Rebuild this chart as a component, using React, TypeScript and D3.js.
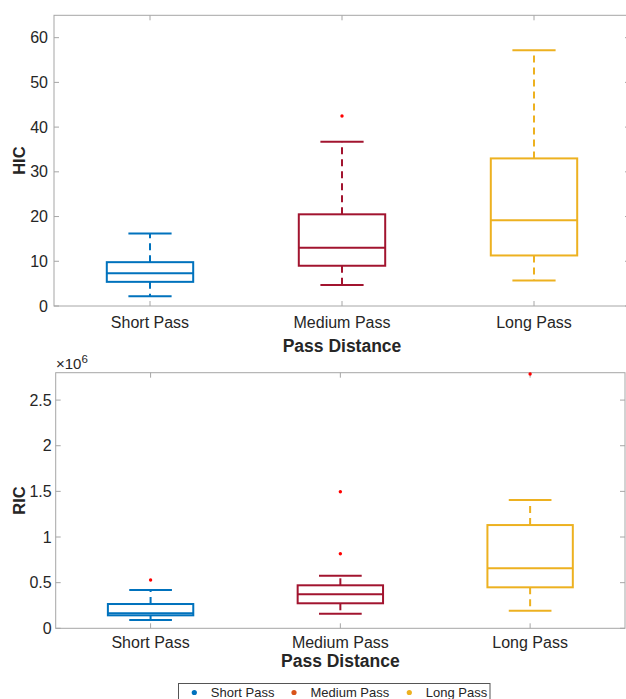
import React, { useRef, useEffect } from "react";
import * as d3 from "d3";

// categories and colours
const groups = ["Short Pass", "Medium Pass", "Long Pass"];
const boxColors = ["#0072BD", "#A2142F", "#EDB120"];
const legendColors = ["#0072BD", "#D95319", "#EDB120"];

// HIC box stats: [lowerWhisker, q1, median, q3, upperWhisker]
const hicStats = [
  [2.2, 5.4, 7.3, 9.8, 16.2],
  [4.7, 9.0, 13.0, 20.5, 36.7],
  [5.7, 11.3, 19.2, 33.0, 57.2],
];
const hicOutliers = [[], [42.5], []];
const hicTicks = [0, 10, 20, 30, 40, 50, 60];

// RIC box stats (x1e6)
const ricStats = [
  [0.091, 0.142, 0.164, 0.266, 0.419],
  [0.16, 0.274, 0.372, 0.471, 0.576],
  [0.193, 0.449, 0.657, 1.131, 1.405],
];
const ricOutliers = [[0.529], [0.817, 1.496], [2.785]];
const ricTicks = [0, 0.5, 1, 1.5, 2, 2.5];

const FONT = "'Liberation Sans', Arial, Helvetica, sans-serif";
const TEXT = "#262626";
const AXIS = "#a6a6a6";

function drawPanel(svg, opt) {
  const { left, right, top, bottom, yMax, ticks, stats, outliers, yLabel, tickFmt, gap, tickY, xLabelY } = opt;
  const g = svg.append("g");
  const x = d3.scaleLinear().domain([0.5, 3.5]).range([left, right]);
  const y = d3.scaleLinear().domain([0, yMax]).range([bottom, top]);
  const halfW = x(1.225) - x(1);
  const capW = halfW / 2;

  // frame
  g.append("rect")
    .attr("x", left).attr("y", top)
    .attr("width", right - left).attr("height", bottom - top)
    .attr("fill", "white").attr("stroke", AXIS).attr("stroke-width", 1);

  // y ticks both sides
  ticks.forEach((t) => {
    const yy = y(t);
    g.append("line").attr("x1", left).attr("x2", left + 5).attr("y1", yy).attr("y2", yy).attr("stroke", AXIS);
    g.append("line").attr("x1", right).attr("x2", right - 5).attr("y1", yy).attr("y2", yy).attr("stroke", AXIS);
    g.append("text")
      .attr("x", left - gap).attr("y", yy).attr("dy", "0.35em")
      .attr("text-anchor", "end")
      .attr("font-family", FONT).attr("font-size", 16).attr("fill", TEXT)
      .text(tickFmt(t));
  });

  // x ticks both sides
  groups.forEach((name, i) => {
    const xx = x(i + 1);
    g.append("line").attr("x1", xx).attr("x2", xx).attr("y1", bottom).attr("y2", bottom - 5).attr("stroke", AXIS);
    g.append("line").attr("x1", xx).attr("x2", xx).attr("y1", top).attr("y2", top + 5).attr("stroke", AXIS);
    g.append("text")
      .attr("x", xx).attr("y", tickY)
      .attr("text-anchor", "middle")
      .attr("font-family", FONT).attr("font-size", 16).attr("fill", TEXT)
      .text(name);
  });

  // boxes
  stats.forEach((s, i) => {
    const [lo, q1, med, q3, hi] = s;
    const cx = x(i + 1);
    const c = boxColors[i];
    const b = g.append("g").attr("stroke", c).attr("stroke-width", 2).attr("fill", "none");
    b.append("line").attr("x1", cx).attr("x2", cx).attr("y1", y(q3)).attr("y2", y(hi)).attr("stroke-dasharray", "7,5");
    b.append("line").attr("x1", cx).attr("x2", cx).attr("y1", y(q1)).attr("y2", y(lo)).attr("stroke-dasharray", "7,5");
    b.append("line").attr("x1", cx - capW).attr("x2", cx + capW).attr("y1", y(hi)).attr("y2", y(hi));
    b.append("line").attr("x1", cx - capW).attr("x2", cx + capW).attr("y1", y(lo)).attr("y2", y(lo));
    b.append("rect").attr("x", cx - halfW).attr("y", y(q3)).attr("width", 2 * halfW).attr("height", y(q1) - y(q3));
    b.append("line").attr("x1", cx - halfW).attr("x2", cx + halfW).attr("y1", y(med)).attr("y2", y(med));
    outliers[i].forEach((o) => {
      g.append("circle").attr("cx", cx).attr("cy", y(o)).attr("r", 1.7).attr("fill", "#ff0000");
    });
  });

  // labels
  g.append("text")
    .attr("transform", `translate(25,${(top + bottom) / 2}) rotate(-90)`)
    .attr("text-anchor", "middle")
    .attr("font-family", FONT).attr("font-size", 16.5).attr("font-weight", "bold").attr("fill", TEXT)
    .text(yLabel);
  g.append("text")
    .attr("x", (left + right) / 2).attr("y", xLabelY)
    .attr("text-anchor", "middle")
    .attr("font-family", FONT).attr("font-size", 17.5).attr("font-weight", "bold").attr("fill", TEXT)
    .text("Pass Distance");
}

export default function App() {
  const svgRef = useRef(null);

  useEffect(() => {
    const svg = d3.select(svgRef.current);
    svg.selectAll("*").remove();

    drawPanel(svg, {
      left: 54, right: 630, top: 15.3, bottom: 306, yMax: 65,
      ticks: hicTicks, stats: hicStats, outliers: hicOutliers,
      yLabel: "HIC", tickFmt: (t) => String(t), gap: 6, tickY: 328, xLabelY: 351.5,
    });

    drawPanel(svg, {
      left: 55.7, right: 625, top: 372.7, bottom: 628.3, yMax: 2.8,
      ticks: ricTicks, stats: ricStats, outliers: ricOutliers,
      yLabel: "RIC", tickFmt: (t) => String(t), gap: 4, tickY: 647.5, xLabelY: 666.5,
    });

    // exponent label
    const ex = svg.append("text")
      .attr("x", 56).attr("y", 368.5)
      .attr("font-family", FONT).attr("font-size", 15).attr("fill", TEXT);
    ex.append("tspan").text("\u00d710");
    ex.append("tspan").attr("dy", -6).attr("font-size", 11.5).text("6");

    // legend
    const lg = svg.append("g");
    lg.append("rect")
      .attr("x", 178.5).attr("y", 683.5).attr("width", 311.5).attr("height", 30)
      .attr("fill", "white").attr("stroke", "#555").attr("stroke-width", 1);
    const dotX = [194.3, 294, 409.3];
    groups.forEach((name, i) => {
      lg.append("circle").attr("cx", dotX[i]).attr("cy", 692.5).attr("r", 2.6).attr("fill", legendColors[i]);
      lg.append("text")
        .attr("x", dotX[i] + 16.5).attr("y", 697)
        .attr("font-family", FONT).attr("font-size", 13).attr("fill", TEXT)
        .text(name);
    });
  }, []);

  return (
    <svg
      ref={svgRef}
      width={626}
      height={699}
      style={{ position: "absolute", left: 0, top: 0, background: "white" }}
    ></svg>
  );
}
